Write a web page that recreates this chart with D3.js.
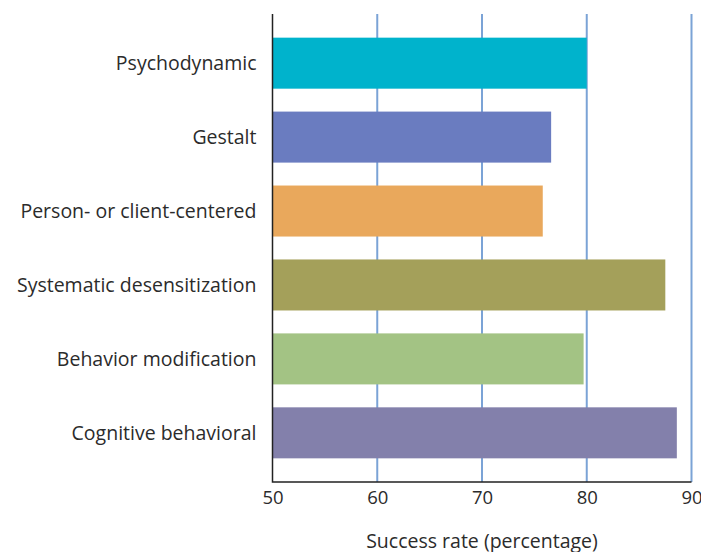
<!DOCTYPE html>
<html>
<head>
<meta charset="utf-8">
<script src="https://cdn.jsdelivr.net/npm/d3@7"></script>
<style>
  html, body { margin: 0; padding: 0; background: #fff; }
  svg { display: block; }
  text { font-family: "Open Sans", Lato, sans-serif; fill: #2b2b2b; }
</style>
</head>
<body>
<svg id="chart" width="701" height="552"></svg>
<script>
// Success rate by type of therapy
const therapies = [
  "Psychodynamic",
  "Gestalt",
  "Person- or client-centered",
  "Systematic desensitization",
  "Behavior modification",
  "Cognitive behavioral"
];
const successRates = [80.0, 76.6, 75.8, 87.5, 79.7, 88.6];
const barColors = ["#00b3cc", "#6a7cc0", "#e9a85c", "#a4a05a", "#a3c384", "#8380ab"];
const tickValues = [50, 60, 70, 80, 90];
const xTitle = "Success rate (percentage)";

const FONT = "'Open Sans', Lato, sans-serif";
const LABEL_SIZE = 19.5;
const TICK_SIZE = 18.5;

const svg = d3.select("#chart");
const margin = { top: 14, bottom: 482 };

const x = d3.scaleLinear().domain([50, 90]).range([272.5, 691.5]);
const y = d3.scaleBand()
  .domain(therapies)
  .range([margin.top, margin.bottom])
  .paddingInner(0.31)
  .paddingOuter(0.32);

// vertical gridlines behind the bars
svg.append("g")
  .selectAll("line")
  .data(tickValues.filter(v => v > 50))
  .join("line")
  .attr("x1", d => x(d)).attr("x2", d => x(d))
  .attr("y1", margin.top).attr("y2", margin.bottom)
  .attr("stroke", "#7ba3d6")
  .attr("stroke-width", 2);

// bars
svg.append("g")
  .selectAll("rect")
  .data(therapies)
  .join("rect")
  .attr("x", x(50))
  .attr("y", d => y(d))
  .attr("width", (d, i) => x(successRates[i]) - x(50))
  .attr("height", y.bandwidth())
  .attr("fill", (d, i) => barColors[i]);

// category labels
const yAxis = svg.append("g")
  .attr("transform", `translate(${x(50)},0)`)
  .call(d3.axisLeft(y).tickSize(0).tickPadding(16));
yAxis.select(".domain").remove();
yAxis.selectAll("text")
  .attr("font-size", LABEL_SIZE)
  .attr("dy", "0.35em")
  .style("font-family", FONT)
  .attr("fill", "#2b2b2b");

// x axis
const xAxis = svg.append("g")
  .attr("transform", `translate(0,${margin.bottom})`)
  .call(d3.axisBottom(x).tickValues(tickValues).tickSize(0).tickPadding(9));
xAxis.select(".domain").remove();
xAxis.selectAll("text")
  .attr("font-size", TICK_SIZE)
  .style("font-family", FONT)
  .attr("fill", "#2b2b2b");

// axis lines (left and bottom)
svg.append("path")
  .attr("d", `M${x(50)},${margin.top}V${margin.bottom}H${x(90)}`)
  .attr("fill", "none")
  .attr("stroke", "#222")
  .attr("stroke-width", 1.5);

// x title
svg.append("text")
  .attr("x", (x(50) + x(90)) / 2)
  .attr("y", 548)
  .attr("text-anchor", "middle")
  .attr("font-size", LABEL_SIZE)
  .style("font-family", FONT)
  .text(xTitle);
</script>
</body>
</html>
